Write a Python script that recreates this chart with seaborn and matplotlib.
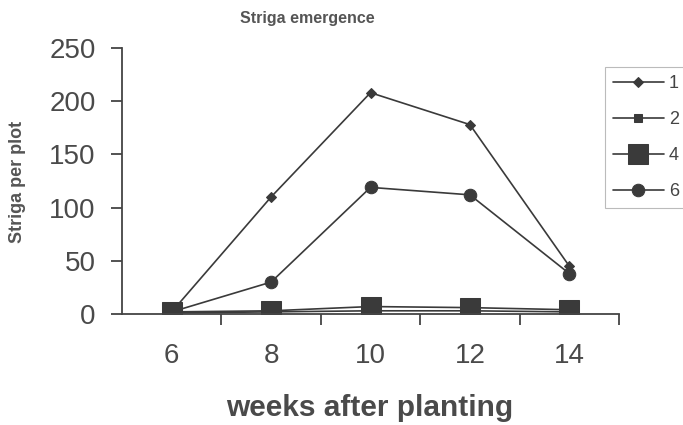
import matplotlib
matplotlib.use("Agg")
import matplotlib.pyplot as plt
import seaborn as sns
import pandas as pd

weeks = [6, 8, 10, 12, 14]
s1 = [2, 110, 208, 178, 45]
s2 = [1, 2, 3, 3, 2]
s4 = [2, 3, 7, 6, 4]
s6 = [2, 30, 119, 112, 38]
series_names = ["1", "2", "4", "6"]

sns.set_theme(style="white")
plt.rcParams['font.family'] = ['Liberation Sans', 'DejaVu Sans']

rows = []
for name, vals in zip(series_names, [s1, s2, s4, s6]):
    for w, v in zip(weeks, vals):
        rows.append({"week": w, "count": v, "series": name})
df = pd.DataFrame(rows)

fig = plt.figure(figsize=(6.83, 4.25), dpi=100)
ax = fig.add_axes([122/683, 1 - 314/425, (619 - 122)/683, (314 - 48)/425])

lc = "#3a3a3a"
markers = {"1": "D", "2": "s", "4": "s", "6": "o"}
sizes = {"1": 5.5, "2": 6, "4": 14, "6": 9}
for name in series_names:
    sub = df[df.series == name]
    sns.lineplot(data=sub, x="week", y="count", ax=ax, color=lc, lw=1.2,
                 marker=markers[name], markersize=sizes[name],
                 markeredgecolor=lc, markerfacecolor=lc, label=name, legend=False)

ax.set_xlim(5, 15)
ax.set_ylim(0, 250)
ax.set_xticks(weeks)
ax.set_xticklabels([str(w) for w in weeks])
ax.set_xticks([7, 9, 11, 13, 15], minor=True)
ax.set_yticks([0, 50, 100, 150, 200, 250])
ax.tick_params(axis="x", which="major", length=0, labelsize=20, colors="#4a4a4a", pad=21)
ax.tick_params(axis="x", which="minor", length=8, width=1.3, color="#444", direction="out", bottom=True)
ax.tick_params(axis="y", length=8, width=1.3, color="#444", direction="out", left=True,
               labelsize=20, labelcolor="#4a4a4a", pad=11)
for sp in ["top", "right"]:
    ax.spines[sp].set_visible(False)
for sp in ["left", "bottom"]:
    ax.spines[sp].set_color("#444")
    ax.spines[sp].set_linewidth(1.3)

ax.set_xlabel("")
ax.set_ylabel("")
fig.text(307/683, 1 - 18/425, "Striga emergence", ha="center", va="center",
         fontsize=11.5, fontweight="bold", color="#555")
fig.text(18/683, 1 - 182/425, "Striga per plot", ha="center", va="center", rotation=90,
         fontsize=13, fontweight="bold", color="#555")
fig.text(370/683, 1 - 408/425, "weeks after planting", ha="center", va="center",
         fontsize=21.5, fontweight="bold", color="#4a4a4a")

handles, labels = ax.get_legend_handles_labels()
leg = fig.legend(handles, labels, loc="upper left", bbox_to_anchor=(605/683, 1 - 67/425),
                 frameon=True, fancybox=False, fontsize=13, handlelength=2.8,
                 labelspacing=1.05, borderpad=0.45, handletextpad=0.3, borderaxespad=0)
leg.get_frame().set_edgecolor("#aaa")
leg.get_frame().set_linewidth(0.8)
for t in leg.get_texts():
    t.set_color("#444")

fig.savefig("out.png", dpi=100)
